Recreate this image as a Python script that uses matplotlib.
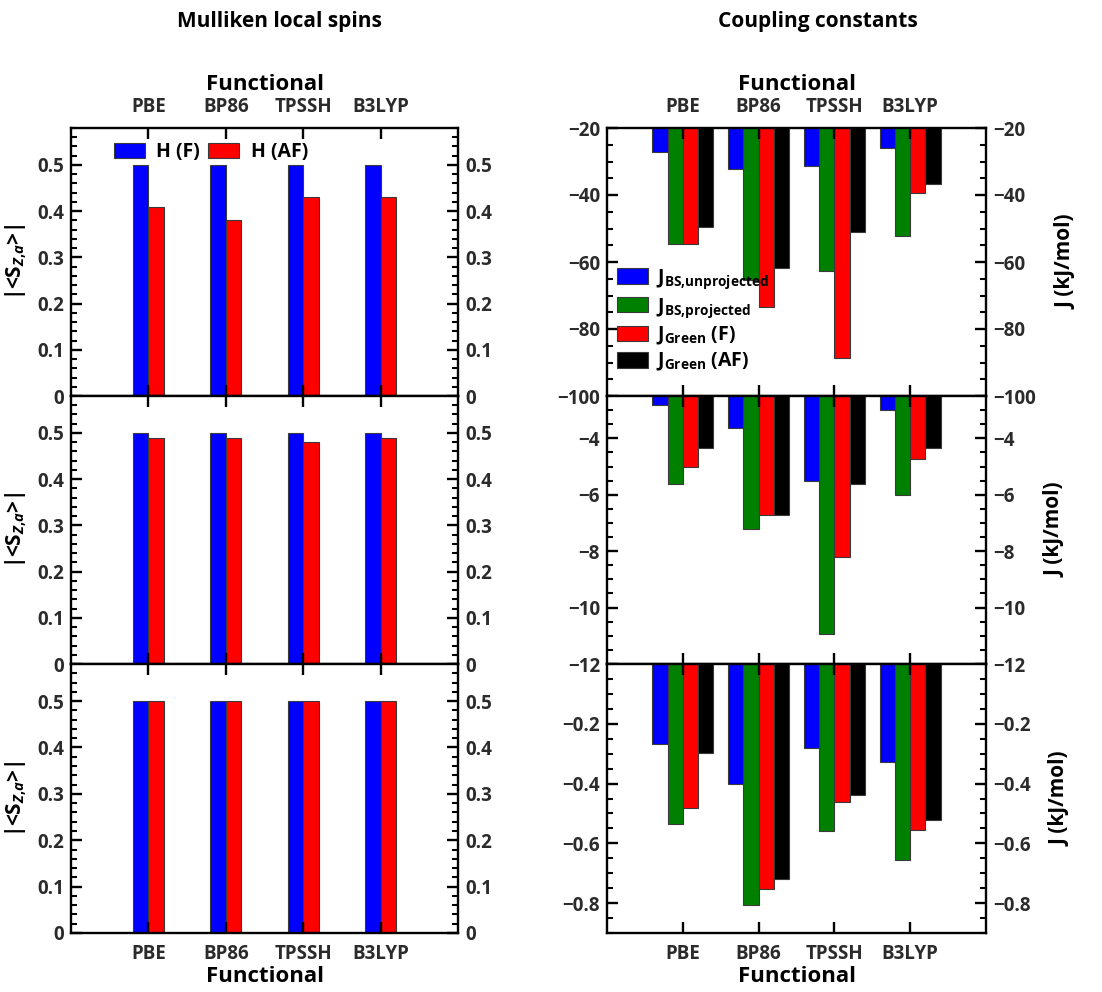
import matplotlib
matplotlib.use("Agg")
import matplotlib.pyplot as plt
from matplotlib.ticker import MultipleLocator, FuncFormatter
import numpy as np

FONT = "Open Sans"
plt.rcParams["font.family"] = [FONT, "DejaVu Sans"]
plt.rcParams["font.weight"] = "bold"
plt.rcParams["mathtext.fontset"] = "custom"
plt.rcParams["mathtext.bf"] = FONT + ":bold"
plt.rcParams["mathtext.rm"] = FONT + ":bold"
plt.rcParams["mathtext.it"] = FONT + ":bold:italic"
plt.rcParams["mathtext.default"] = "bf"

functionals = ["PBE", "BP86", "TPSSH", "B3LYP"]

# Mulliken local spins |<S_z,a>| per system (rows: top, middle, bottom)
spin_F = [
    [0.50, 0.50, 0.50, 0.50],
    [0.50, 0.50, 0.50, 0.50],
    [0.50, 0.50, 0.50, 0.50],
]
spin_AF = [
    [0.41, 0.38, 0.43, 0.43],
    [0.49, 0.49, 0.48, 0.49],
    [0.50, 0.50, 0.50, 0.50],
]

# Coupling constants J (kJ/mol)
J_bs_unproj = [
    [-27.3, -32.3, -31.2, -26.0],
    [-2.82, -3.62, -5.51, -3.01],
    [-0.268, -0.403, -0.281, -0.329],
]
J_bs_proj = [
    [-54.7, -65.3, -62.8, -52.1],
    [-5.63, -7.23, -10.92, -6.02],
    [-0.534, -0.806, -0.559, -0.655],
]
J_green_F = [
    [-54.7, -73.5, -88.8, -39.3],
    [-5.03, -6.72, -8.22, -4.72],
    [-0.483, -0.752, -0.461, -0.556],
]
J_green_AF = [
    [-49.7, -61.8, -51.0, -36.6],
    [-4.33, -6.73, -5.63, -4.33],
    [-0.298, -0.720, -0.438, -0.522],
]

J_ylims = [(-100, -20), (-12, -2.5), (-0.9, 0)]
J_major = [np.arange(-100, -19, 20), np.arange(-12, -3, 2), [-0.8, -0.6, -0.4, -0.2]]
J_minor = [5, 0.5, 0.05]

TXT = "#2b2b2b"
EDGE = "#3a3a3a"
x = np.arange(1, len(functionals) + 1)
w = 0.2


def minus_fmt(v, pos):
    s = f"{v:g}"
    return s.replace("-", "\u2212")


def style_axes(ax):
    for sp in ax.spines.values():
        sp.set_linewidth(1.7)
        sp.set_color("black")
    ax.set_xlim(0, 5)
    ax.set_xticks(x)
    ax.tick_params(axis="x", which="major", direction="in", top=True, bottom=True,
                   length=8, width=1.7, pad=8, labelsize=13.5, labelcolor=TXT)
    ax.tick_params(axis="y", which="major", direction="in", left=True, right=True,
                   length=8, width=1.7, pad=5, labelsize=13.5, labelcolor=TXT,
                   labelleft=True, labelright=True)
    ax.tick_params(axis="y", which="minor", direction="in", left=True, right=True,
                   length=4.5, width=1.5)
    ax.yaxis.set_major_formatter(FuncFormatter(minus_fmt))


fig = plt.figure(figsize=(11.02, 9.92), dpi=100)

left_x, left_w = 71 / 1102, 387 / 1102
right_x, right_w = 607 / 1102, 379 / 1102
rows = [(1 - 396 / 992, 268 / 992), (1 - 664 / 992, 268 / 992), (1 - 933 / 992, 269 / 992)]

for i, (b, h) in enumerate(rows):
    # spins
    ax = fig.add_axes([left_x, b, left_w, h])
    ax.bar(x - w / 2, spin_F[i], w, color="#0000ff", edgecolor=EDGE, linewidth=0.8, label="H (F)")
    ax.bar(x + w / 2, spin_AF[i], w, color="#ff0000", edgecolor=EDGE, linewidth=0.8, label="H (AF)")
    style_axes(ax)
    ax.set_ylim(0, 0.58)
    ax.set_yticks(np.arange(0, 0.51, 0.1))
    ax.yaxis.set_minor_locator(MultipleLocator(0.02))
    ax.set_ylabel(r"|<S$_{\mathit{Z{,}a}}$>|", fontsize=15, fontweight="bold", labelpad=6)

    # coupling constants
    axr = fig.add_axes([right_x, b, right_w, h])
    axr.bar(x - 1.5 * w, J_bs_unproj[i], w, color="#0000ff", edgecolor=EDGE, linewidth=0.8,
            label=r"J$_{BS{,}unprojected}$")
    axr.bar(x - 0.5 * w, J_bs_proj[i], w, color="#008000", edgecolor=EDGE, linewidth=0.8,
            label=r"J$_{BS{,}projected}$")
    axr.bar(x + 0.5 * w, J_green_F[i], w, color="#ff0000", edgecolor=EDGE, linewidth=0.8,
            label=r"J$_{Green}$ (F)")
    axr.bar(x + 1.5 * w, J_green_AF[i], w, color="#000000", edgecolor=EDGE, linewidth=0.8,
            label=r"J$_{Green}$ (AF)")
    style_axes(axr)
    axr.set_ylim(*J_ylims[i])
    axr.set_yticks(J_major[i])
    axr.yaxis.set_minor_locator(MultipleLocator(J_minor[i]))
    axr.yaxis.set_label_position("right")
    axr.set_ylabel("J (kJ/mol)", fontsize=15, fontweight="bold", labelpad=14)

    for a in (ax, axr):
        if i == 0:
            a.xaxis.set_ticks_position("both")
            a.tick_params(axis="x", labeltop=True, labelbottom=False)
            a.xaxis.set_label_position("top")
            a.set_xticklabels(functionals)
            a.set_xlabel("Functional", fontsize=16, fontweight="bold", labelpad=5)
        elif i == 2:
            a.tick_params(axis="x", labeltop=False, labelbottom=True)
            a.set_xticklabels(functionals)
            a.set_xlabel("Functional", fontsize=16, fontweight="bold", labelpad=1)
        else:
            a.tick_params(axis="x", labeltop=False, labelbottom=False)

    if i == 0:
        ax.legend(loc="upper left", bbox_to_anchor=(0.09, 0.975), ncol=2, frameon=False,
                  fontsize=14, handlelength=1.6, handleheight=0.8, handletextpad=0.6,
                  columnspacing=0.4, borderaxespad=0)
        axr.legend(loc="lower left", bbox_to_anchor=(0.005, 0.055), frameon=False,
                   fontsize=14, handlelength=1.6, handleheight=0.85, handletextpad=0.4,
                   labelspacing=0.25, borderaxespad=0)

fig.text(279 / 1102, 1 - 22 / 992, "Mulliken local spins", ha="center", va="center",
         fontsize=15, fontweight="bold")
fig.text(818 / 1102, 1 - 22 / 992, "Coupling constants", ha="center", va="center",
         fontsize=15, fontweight="bold")

fig.savefig("out.png", dpi=100)
